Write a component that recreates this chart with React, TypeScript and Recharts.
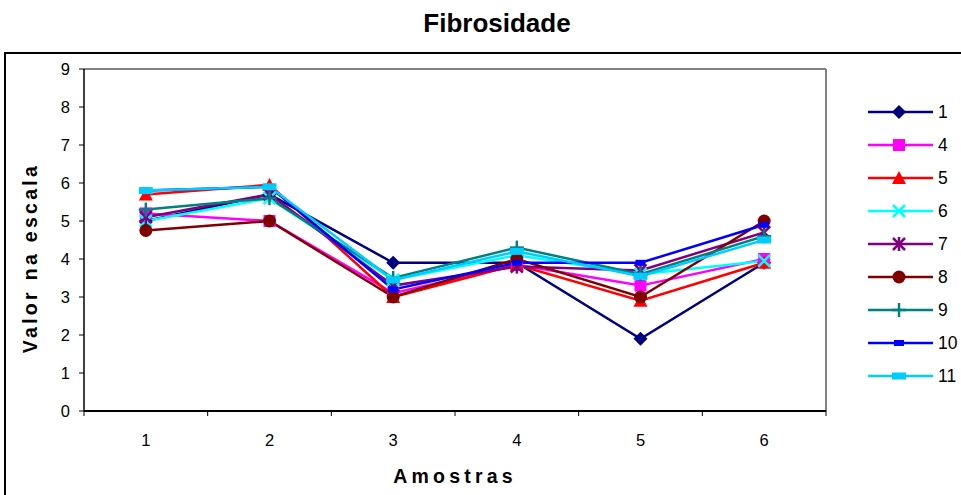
import React from 'react';
import { LineChart, Line, XAxis, YAxis, ReferenceLine, Legend } from 'recharts';

// Amostras 1..6
const samples = [1, 2, 3, 4, 5, 6];
const yTicks = [0, 1, 2, 3, 4, 5, 6, 7, 8, 9];
const xTicks = [0.5, 1, 1.5, 2, 2.5, 3, 3.5, 4, 4.5, 5, 5.5, 6, 6.5];

// values read per judge (series name = judge number)
const s1 = [5.0, 5.7, 3.9, 3.9, 1.9, 3.9];
const s4 = [5.2, 5.0, 3.1, 3.85, 3.3, 4.0];
const s5 = [5.7, 5.95, 3.0, 3.85, 2.9, 3.9];
const s6 = [5.0, 5.6, 3.45, 4.1, 3.6, 3.95];
const s7 = [5.1, 5.7, 3.3, 3.8, 3.7, 4.7];
const s8 = [4.75, 5.0, 3.0, 4.0, 3.0, 5.0];
const s9 = [5.3, 5.6, 3.5, 4.3, 3.6, 4.6];
const s10 = [5.8, 5.9, 3.2, 3.9, 3.9, 4.9];
const s11 = [5.8, 5.9, 3.45, 4.2, 3.55, 4.5];

const series = [
  { key: '1', values: s1, color: '#000080', shape: 'diamond' },
  { key: '4', values: s4, color: '#FF00FF', shape: 'square' },
  { key: '5', values: s5, color: '#FF0000', shape: 'triangle' },
  { key: '6', values: s6, color: '#00FFFF', shape: 'x' },
  { key: '7', values: s7, color: '#800080', shape: 'star' },
  { key: '8', values: s8, color: '#800000', shape: 'circle' },
  { key: '9', values: s9, color: '#008080', shape: 'plus' },
  { key: '10', values: s10, color: '#0000FF', shape: 'bar' },
  { key: '11', values: s11, color: '#00CCFF', shape: 'wideBar' },
];

const data = samples.map((x, i) => {
  const row: Record<string, number> = { x };
  series.forEach(s => { row[s.key] = s.values[i]; });
  return row;
});

const FONT = '"Liberation Sans", Arial, sans-serif';

const Marker = ({ shape, color, cx, cy }: { shape: string; color: string; cx: number; cy: number }) => {
  switch (shape) {
    case 'diamond':
      return <polygon points={`${cx},${cy - 7} ${cx + 7},${cy} ${cx},${cy + 7} ${cx - 7},${cy}`} fill={color} />;
    case 'square':
      return <rect x={cx - 6} y={cy - 6} width={12} height={12} fill={color} />;
    case 'triangle':
      return <polygon points={`${cx},${cy - 7} ${cx + 7},${cy + 6} ${cx - 7},${cy + 6}`} fill={color} />;
    case 'x':
      return (
        <g stroke={color} strokeWidth={2.5}>
          <line x1={cx - 6} y1={cy - 6} x2={cx + 6} y2={cy + 6} />
          <line x1={cx - 6} y1={cy + 6} x2={cx + 6} y2={cy - 6} />
        </g>
      );
    case 'star':
      return (
        <g stroke={color} strokeWidth={2.5}>
          <line x1={cx - 6} y1={cy - 6} x2={cx + 6} y2={cy + 6} />
          <line x1={cx - 6} y1={cy + 6} x2={cx + 6} y2={cy - 6} />
          <line x1={cx} y1={cy - 7} x2={cx} y2={cy + 7} />
        </g>
      );
    case 'circle':
      return <circle cx={cx} cy={cy} r={6.5} fill={color} />;
    case 'plus':
      return (
        <g stroke={color} strokeWidth={2.5}>
          <line x1={cx - 7} y1={cy} x2={cx + 7} y2={cy} />
          <line x1={cx} y1={cy - 7} x2={cx} y2={cy + 7} />
        </g>
      );
    case 'bar':
      return <rect x={cx - 5} y={cy - 3} width={10} height={6} fill={color} />;
    default:
      return <rect x={cx - 7} y={cy - 3.5} width={14} height={7} fill={color} />;
  }
};

const makeDot = (shape: string, color: string) => (props: any) => {
  const { cx, cy, index } = props;
  if (cx == null || cy == null) return <g key={`d-${index}`} />;
  return (
    <g key={`d-${shape}-${index}`}>
      <Marker shape={shape} color={color} cx={cx} cy={cy} />
    </g>
  );
};

const XTick = (props: any) => {
  const { x, y, payload } = props;
  const v = payload.value;
  if (Number.isInteger(v)) {
    return (
      <text x={x} y={y + 35} textAnchor="middle" fontSize={16.5} fontFamily={FONT} fill="#000">
        {v}
      </text>
    );
  }
  return <line x1={x} y1={y} x2={x} y2={y + 5} stroke="#000" strokeWidth={1} />;
};

const LegendBox = () => (
  <svg width={101} height={300} style={{ display: 'block', overflow: 'visible' }}>
    {series.map((s, i) => {
      const y = 16 + i * 33;
      return (
        <g key={s.key}>
          <line x1={8} y1={y} x2={73} y2={y} stroke={s.color} strokeWidth={2.5} />
          <Marker shape={s.shape} color={s.color} cx={39} cy={y} />
          <text x={78} y={y + 6} fontSize={17.5} fontFamily={FONT} fill="#000">
            {s.key}
          </text>
        </g>
      );
    })}
  </svg>
);

export default function App() {
  return (
    <div style={{ position: 'absolute', left: 0, top: 0, width: 961, height: 495, overflow: 'hidden', background: '#fff' }}>
      <div
        style={{
          position: 'absolute',
          left: 4,
          top: 52,
          width: 1000,
          height: 500,
          border: '2px solid #000',
          boxSizing: 'border-box',
        }}
      />
      <div
        style={{
          position: 'absolute',
          left: 0,
          top: 8,
          width: 994,
          textAlign: 'center',
          fontFamily: FONT,
          fontWeight: 'bold',
          fontSize: 26,
        }}
      >
        Fibrosidade
      </div>
      <div
        style={{
          position: 'absolute',
          left: 383,
          top: 465,
          width: 144,
          textAlign: 'center',
          fontFamily: FONT,
          fontWeight: 'bold',
          fontSize: 19.5,
          letterSpacing: 4.2,
          whiteSpace: 'nowrap',
        }}
      >
        Amostras
      </div>
      <div style={{ position: 'absolute', left: 0, top: 0 }}>
        <LineChart width={961} height={495} data={data} margin={{ top: 69, right: 135, left: 0, bottom: 0 }}>
          <text
            x={30}
            y={258}
            transform="rotate(-90 30 258)"
            textAnchor="middle"
            dominantBaseline="central"
            fontFamily={FONT}
            fontWeight="bold"
            fontSize={19.5}
            letterSpacing={3.3}
            fill="#000"
          >
            Valor na escala
          </text>
          <XAxis
            dataKey="x"
            type="number"
            domain={[0.5, 6.5]}
            ticks={xTicks}
            interval={0}
            height={84}
            tickLine={false}
            tickSize={0}
            tickMargin={0}
            tick={<XTick />}
            axisLine={{ stroke: '#000', strokeWidth: 2 }}
          />
          <YAxis
            type="number"
            domain={[0, 9]}
            ticks={yTicks}
            interval={0}
            width={84}
            tickSize={5}
            tickMargin={9}
            tickLine={{ stroke: '#000' }}
            axisLine={{ stroke: '#000', strokeWidth: 1.5 }}
            tick={{ fill: '#000', fontSize: 16.5, fontFamily: FONT }}
          />
          <ReferenceLine y={9} stroke="#808080" strokeWidth={2} />
          <ReferenceLine x={6.5} stroke="#808080" strokeWidth={2} />
          {series.map(s => (
            <Line
              key={s.key}
              dataKey={s.key}
              name={s.key}
              stroke={s.color}
              strokeWidth={2.5}
              dot={makeDot(s.shape, s.color)}
              activeDot={false}
              isAnimationActive={false}
            />
          ))}
          <Legend
            layout="horizontal"
            align="center"
            verticalAlign="middle"
            content={<LegendBox />}
            wrapperStyle={{ left: 860, top: 96, width: 101, height: 300 }}
          />
        </LineChart>
      </div>
    </div>
  );
}
